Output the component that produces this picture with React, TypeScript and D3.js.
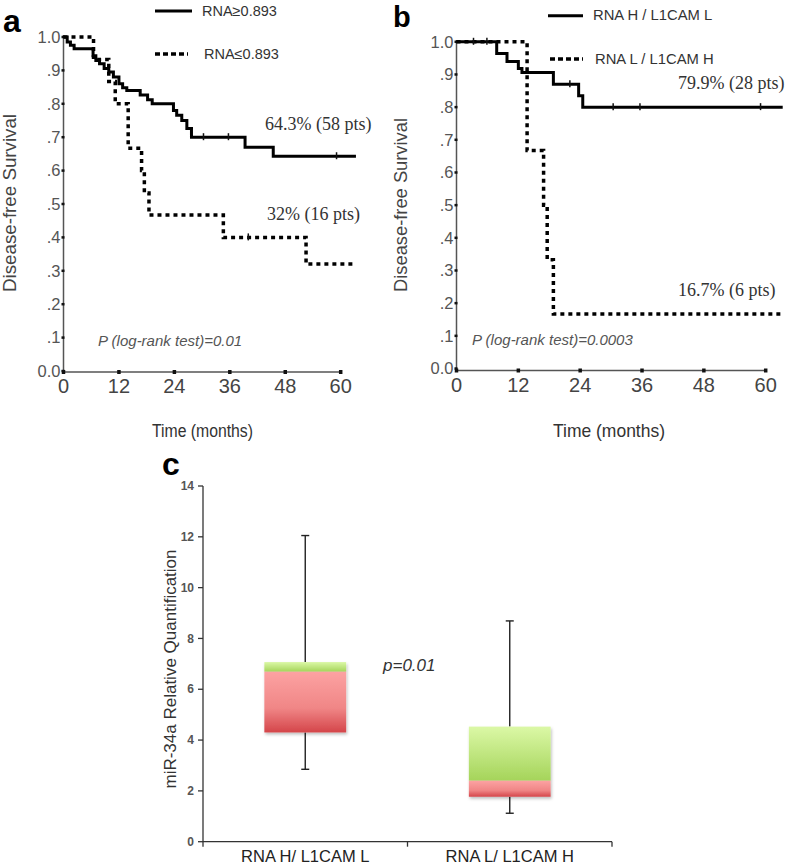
import React from 'react';
import * as d3 from 'd3';

// ---------- DATA ----------
const monthTicks = [0, 12, 24, 36, 48, 60];
const survTicks = [0, 0.1, 0.2, 0.3, 0.4, 0.5, 0.6, 0.7, 0.8, 0.9, 1.0];
const survTickLabels = ['0.0', '.1', '.2', '.3', '.4', '.5', '.6', '.7', '.8', '.9', '1.0'];

// Panel a
const aHighTimes = [0, 0.8, 1.5, 2.3, 6.4, 7.0, 7.8, 8.8, 9.8, 10.8, 12.0, 12.8, 13.7, 16.6, 18.2, 19.2, 23.8, 24.5, 25.6, 26.7, 27.7, 39.3, 45.4];
const aHighSurv = [1, 0.985, 0.975, 0.965, 0.944, 0.93, 0.92, 0.906, 0.895, 0.88, 0.86, 0.848, 0.84, 0.826, 0.812, 0.8, 0.78, 0.766, 0.75, 0.726, 0.7, 0.67, 0.643];
const aHighCensor = [30.3, 35.7, 59.1];
const aLowTimes = [0, 6.5, 9.8, 11.2, 14.0, 16.9, 17.5, 18.5, 34.6, 52.5];
const aLowSurv = [1, 0.933, 0.867, 0.8, 0.667, 0.6, 0.533, 0.467, 0.4, 0.32];
const aLowCensor = [40.0];
const aEnd = 63.3;

// Panel b
const bHighTimes = [0, 7.8, 9.8, 12.0, 12.7, 18.8, 23.7, 24.5];
const bHighSurv = [1, 0.964, 0.94, 0.918, 0.906, 0.87, 0.835, 0.8];
const bHighCensor = [3.3, 5.9, 22.0, 30.4, 35.6, 59.0];
const bLowTimes = [0, 13.7, 16.9, 17.6, 18.8];
const bLowSurv = [1, 0.667, 0.5, 0.333, 0.167];
const bLowCensor: number[] = [];
const bEnd = 63.3;

// Panel c
const boxCats = ['RNA H/ L1CAM L', 'RNA L/ L1CAM H'];
const boxMin = [2.85, 1.12];
const boxQ1 = [4.3, 1.77];
const boxMed = [6.69, 2.4];
const boxQ3 = [7.07, 4.53];
const boxMax = [12.05, 8.69];
const boxTicks = [0, 2, 4, 6, 8, 10, 12, 14];

const SANS = '"Liberation Sans", Arial, sans-serif';
const SERIF = '"Liberation Serif", "Times New Roman", serif';

function survAt(times: number[], surv: number[], t: number) {
  let v = surv[0];
  for (let i = 0; i < times.length; i++) if (times[i] <= t) v = surv[i];
  return v;
}

function stepPath(times: number[], surv: number[], end: number, x: any, y: any) {
  const pts: [number, number][] = times.map((t, i) => [x(t), y(surv[i])]);
  pts.push([x(end), y(surv[surv.length - 1])]);
  return d3.line().curve(d3.curveStepAfter)(pts) as string;
}

type KMProps = {
  x: any; y: any; axisY: number; axisTop: number;
  highT: number[]; highS: number[]; highC: number[];
  lowT: number[]; lowS: number[]; lowC: number[]; end: number;
};

function KM(p: KMProps) {
  const x0 = p.x(0);
  const x60 = p.x(60);
  const censor = (T: number[], S: number[], C: number[], k: string) =>
    C.map((c, i) => {
      const cy = p.y(survAt(T, S, c));
      return <line key={k + i} x1={p.x(c)} x2={p.x(c)} y1={cy - 4} y2={cy + 3} stroke="#111" strokeWidth={1.5} />;
    });
  return (
    <g>
      <line x1={x0} x2={x0} y1={p.axisTop} y2={p.axisY} stroke="#555" strokeWidth={1.5} />
      <line x1={x0} x2={x60 + 1} y1={p.axisY} y2={p.axisY} stroke="#555" strokeWidth={1.5} />
      {survTicks.map((v, i) => (
        <g key={'yt' + i}>
          <line x1={x0 - 2} x2={x0 + 1} y1={p.y(v)} y2={p.y(v)} stroke="#111" strokeWidth={2.5} />
          <text x={x0 - 3} y={p.y(v)} dy="0.35em" textAnchor="end" fontFamily={SANS} fontSize={16.5} fill="#555">{survTickLabels[i]}</text>
        </g>
      ))}
      {monthTicks.map((m) => (
        <g key={'xt' + m}>
          <line x1={p.x(m)} x2={p.x(m)} y1={p.axisY - 2} y2={p.axisY + 2} stroke="#111" strokeWidth={3.5} />
          <text x={p.x(m)} y={p.axisY + 21} textAnchor="middle" fontFamily={SANS} fontSize={20} fill="#444">{m}</text>
        </g>
      ))}
      <path d={stepPath(p.highT, p.highS, p.end, p.x, p.y)} fill="none" stroke="#000" strokeWidth={3} />
      <path d={stepPath(p.lowT, p.lowS, p.end, p.x, p.y)} fill="none" stroke="#000" strokeWidth={3.5} strokeDasharray="4 4" />
      {censor(p.highT, p.highS, p.highC, 'hc')}
      {censor(p.lowT, p.lowS, p.lowC, 'lc')}
    </g>
  );
}

export default function App() {
  const xA = d3.scaleLinear().domain([0, 60]).range([63.5, 340.7]);
  const yA = d3.scaleLinear().domain([0, 1]).range([371, 37]);
  const xB = d3.scaleLinear().domain([0, 60]).range([456.5, 765.7]);
  const yB = d3.scaleLinear().domain([0, 1]).range([368.5, 41.8]);

  const xC = d3.scaleBand().domain(boxCats).range([203, 612]);
  const yC = d3.scaleLinear().domain([0, 14]).range([841.7, 486]);
  const bw = xC.bandwidth() * 0.4;

  return (
    <svg width={787} height={867} style={{ position: 'absolute', left: 0, top: 0, background: '#fff' }}>
      <defs>
        <linearGradient id="gGreen" x1="0" y1="0" x2="0" y2="1">
          <stop offset="0" stopColor="#dbf8a6" />
          <stop offset="1" stopColor="#a5d45a" />
        </linearGradient>
        <linearGradient id="gRed" x1="0" y1="0" x2="0" y2="1">
          <stop offset="0" stopColor="#fca2a2" />
          <stop offset="0.6" stopColor="#f08686" />
          <stop offset="1" stopColor="#d4454a" />
        </linearGradient>
        <filter id="shadow" x="-10%" y="-10%" width="130%" height="130%">
          <feDropShadow dx="1" dy="2" stdDeviation="1.5" floodColor="#000" floodOpacity="0.25" />
        </filter>
      </defs>

      {/* Panel a */}
      <text x={3} y={32} fontFamily={SANS} fontWeight="bold" fontSize={32} fill="#000">a</text>
      <line x1={155} x2={192} y1={11} y2={11} stroke="#000" strokeWidth={3} />
      <text x={202} y={11} dy="0.35em" fontFamily={SANS} fontSize={14.5} fill="#333">RNA≥0.893</text>
      <line x1={155} x2={188} y1={54} y2={54} stroke="#000" strokeWidth={3.5} strokeDasharray="5 3" />
      <text x={204} y={54} dy="0.35em" fontFamily={SANS} fontSize={14.5} fill="#333">RNA≤0.893</text>
      <KM x={xA} y={yA} axisY={372} axisTop={35}
        highT={aHighTimes} highS={aHighSurv} highC={aHighCensor}
        lowT={aLowTimes} lowS={aLowSurv} lowC={aLowCensor} end={aEnd} />
      <text transform="translate(16,203) rotate(-90)" textAnchor="middle" fontFamily={SANS} fontSize={18} fill="#444" textLength={178} lengthAdjust="spacingAndGlyphs">Disease-free Survival</text>
      <text x={265} y={130} fontFamily={SERIF} fontSize={18} fill="#333">64.3% (58 pts)</text>
      <text x={267} y={220} fontFamily={SERIF} fontSize={18} fill="#333">32% (16 pts)</text>
      <text x={98} y={346} fontFamily={SANS} fontStyle="italic" fontSize={15} fill="#555">P (log-rank test)=0.01</text>
      <text x={152} y={437} fontFamily={SANS} fontSize={18} fill="#333" textLength={101} lengthAdjust="spacingAndGlyphs">Time (months)</text>

      {/* Panel b */}
      <text x={393} y={27} fontFamily={SANS} fontWeight="bold" fontSize={29} fill="#000">b</text>
      <line x1={548} x2={583} y1={15.7} y2={15.7} stroke="#000" strokeWidth={3} />
      <text x={593} y={15} dy="0.35em" fontFamily={SANS} fontSize={14.8} fill="#333">RNA H / L1CAM L</text>
      <line x1={550} x2={583} y1={59} y2={59} stroke="#000" strokeWidth={3.5} strokeDasharray="5 3" />
      <text x={595} y={59} dy="0.35em" fontFamily={SANS} fontSize={14.8} fill="#333">RNA L / L1CAM H</text>
      <KM x={xB} y={yB} axisY={370.5} axisTop={40}
        highT={bHighTimes} highS={bHighSurv} highC={bHighCensor}
        lowT={bLowTimes} lowS={bLowSurv} lowC={bLowCensor} end={bEnd} />
      <text transform="translate(407,205) rotate(-90)" textAnchor="middle" fontFamily={SANS} fontSize={18} fill="#444" textLength={174} lengthAdjust="spacingAndGlyphs">Disease-free Survival</text>
      <text x={678} y={89} fontFamily={SERIF} fontSize={18} fill="#333">79.9% (28 pts)</text>
      <text x={678} y={296} fontFamily={SERIF} fontSize={18} fill="#333">16.7% (6 pts)</text>
      <text x={472} y={345} fontFamily={SANS} fontStyle="italic" fontSize={15} fill="#555">P (log-rank test)=0.0003</text>
      <text x={553} y={437} fontFamily={SANS} fontSize={19} fill="#333" textLength={112} lengthAdjust="spacingAndGlyphs">Time (months)</text>

      {/* Panel c */}
      <text x={162} y={475} fontFamily={SANS} fontWeight="bold" fontSize={32} fill="#000">c</text>
      <line x1={203} x2={203} y1={yC(14)} y2={yC(0)} stroke="#333" strokeWidth={1.3} />
      <line x1={203} x2={612} y1={yC(0)} y2={yC(0)} stroke="#333" strokeWidth={1.3} />
      {boxTicks.map((t) => (
        <g key={'ct' + t}>
          <line x1={198} x2={203} y1={yC(t)} y2={yC(t)} stroke="#333" strokeWidth={1.3} />
          <text x={194} y={yC(t)} dy="0.35em" textAnchor="end" fontFamily={SANS} fontWeight="bold" fontSize={12} fill="#555">{t}</text>
        </g>
      ))}
      {[203, 203 + xC.step(), 612].map((xx, i) => (
        <line key={'cx' + i} x1={xx} x2={xx} y1={yC(0)} y2={yC(0) + 5} stroke="#333" strokeWidth={1.3} />
      ))}
      {boxCats.map((c, i) => {
        const cx = (xC(c) as number) + xC.bandwidth() / 2;
        return (
          <g key={c}>
            <line x1={cx} x2={cx} y1={yC(boxMax[i])} y2={yC(boxQ3[i])} stroke="#222" strokeWidth={1.4} />
            <line x1={cx} x2={cx} y1={yC(boxQ1[i])} y2={yC(boxMin[i])} stroke="#222" strokeWidth={1.4} />
            <line x1={cx - 4} x2={cx + 4} y1={yC(boxMax[i])} y2={yC(boxMax[i])} stroke="#222" strokeWidth={1.4} />
            <line x1={cx - 4} x2={cx + 4} y1={yC(boxMin[i])} y2={yC(boxMin[i])} stroke="#222" strokeWidth={1.4} />
            <g filter="url(#shadow)">
              <rect x={cx - bw / 2} y={yC(boxQ3[i])} width={bw} height={yC(boxMed[i]) - yC(boxQ3[i])} fill="url(#gGreen)" />
              <rect x={cx - bw / 2} y={yC(boxMed[i])} width={bw} height={yC(boxQ1[i]) - yC(boxMed[i])} fill="url(#gRed)" />
            </g>
            <text x={cx} y={862} textAnchor="middle" fontFamily={SANS} fontSize={16.5} fill="#222">{c}</text>
          </g>
        );
      })}
      <text transform="translate(176,669) rotate(-90)" textAnchor="middle" fontFamily={SANS} fontSize={17} fill="#333">miR-34a Relative Quantification</text>
      <text x={383} y={671} fontFamily={SANS} fontStyle="italic" fontSize={17} fill="#333">p=0.01</text>
    </svg>
  );
}
